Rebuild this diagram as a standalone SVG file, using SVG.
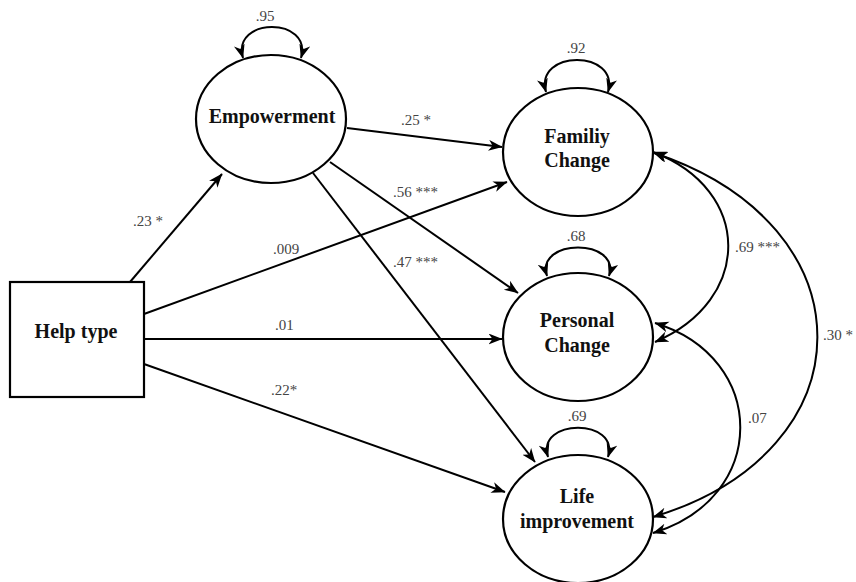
<svg xmlns="http://www.w3.org/2000/svg" width="856" height="582" viewBox="0 0 856 582">
  <style>
    .node { fill: #ffffff; stroke: #000000; stroke-width: 2.2; }
    .title { font-family: "Liberation Serif", "Times New Roman", serif; font-weight: bold; font-size: 20px; fill: #111111; text-anchor: middle; }
    .edge { fill: none; stroke: #000000; stroke-width: 2; marker-end: url(#arrow); }
    .both { marker-start: url(#arrow); }
    .lbl { font-family: "Liberation Serif", "Times New Roman", serif; font-size: 15px; fill: #444444; }
    .mid { text-anchor: middle; }
  </style>
  <defs>
    <marker id="arrow" markerUnits="userSpaceOnUse" markerWidth="15" markerHeight="12" refX="13.5" refY="5.5" orient="auto-start-reverse">
      <path d="M0,0 L14,5.5 L0,11 L4,5.5 Z" fill="#000000"/>
    </marker>
  </defs>
  <rect width="856" height="582" fill="#ffffff"/>

  <g id="connectors">
    <!-- Help type paths -->
    <path class="edge" d="M130,282 L222,174"/>
    <path class="edge" d="M144,314 L507,182"/>
    <path class="edge" d="M144,339 L502,339"/>
    <path class="edge" d="M144,364 L505,492"/>
    <!-- Empowerment paths -->
    <path class="edge" d="M347,128 L502,147"/>
    <path class="edge" d="M330,162 L518,293"/>
    <path class="edge" d="M313,173 L535,462"/>
    <!-- variance loops -->
    <path class="edge both" d="M243,58 C231,16.7 313,16.7 301,58"/>
    <path class="edge both" d="M546,92 C534,49.3 620,49.3 608,92"/>
    <path class="edge both" d="M547,276 C535,238 621,238 609,276"/>
    <path class="edge both" d="M548,457 C536,418 620,418 608,457"/>
    <!-- covariances -->
    <path class="edge both" d="M653,152 C753,190 753,300 655,342"/>
    <path class="edge both" d="M654,153 C872,225 872,451 653,517"/>
    <path class="edge both" d="M655,323 C769,358 769,498 653,533"/>
    <!-- labels -->
    <text class="lbl" x="133" y="226">.23 *</text>
    <text class="lbl" x="273" y="254">.009</text>
    <text class="lbl" x="275" y="330">.01</text>
    <text class="lbl" x="271" y="395">.22*</text>
    <text class="lbl" x="401" y="125">.25 *</text>
    <text class="lbl" x="393" y="197">.56 ***</text>
    <text class="lbl" x="393" y="267">.47 ***</text>
    <text class="lbl mid" x="265" y="21">.95</text>
    <text class="lbl mid" x="576" y="53">.92</text>
    <text class="lbl mid" x="576" y="241">.68</text>
    <text class="lbl mid" x="577" y="421">.69</text>
    <text class="lbl" x="735" y="252">.69 ***</text>
    <text class="lbl" x="823" y="340">.30 *</text>
    <text class="lbl" x="748" y="423">.07</text>
  </g>

  <g id="help-type">
    <rect class="node" x="10" y="282" width="134" height="115"/>
    <text class="title" x="76" y="338">Help type</text>
  </g>
  <g id="empowerment">
    <ellipse class="node" cx="271" cy="119" rx="75" ry="64"/>
    <text class="title" x="272" y="123">Empowerment</text>
  </g>
  <g id="family-change">
    <ellipse class="node" cx="578" cy="152" rx="75" ry="64"/>
    <text class="title" x="577" y="143">Familiy</text>
    <text class="title" x="577" y="167">Change</text>
  </g>
  <g id="personal-change">
    <ellipse class="node" cx="578" cy="337" rx="75" ry="64"/>
    <text class="title" x="577" y="327">Personal</text>
    <text class="title" x="577" y="352">Change</text>
  </g>
  <g id="life-improvement">
    <ellipse class="node" cx="578" cy="519" rx="75" ry="64"/>
    <text class="title" x="577" y="503">Life</text>
    <text class="title" x="577" y="528">improvement</text>
  </g>
</svg>
